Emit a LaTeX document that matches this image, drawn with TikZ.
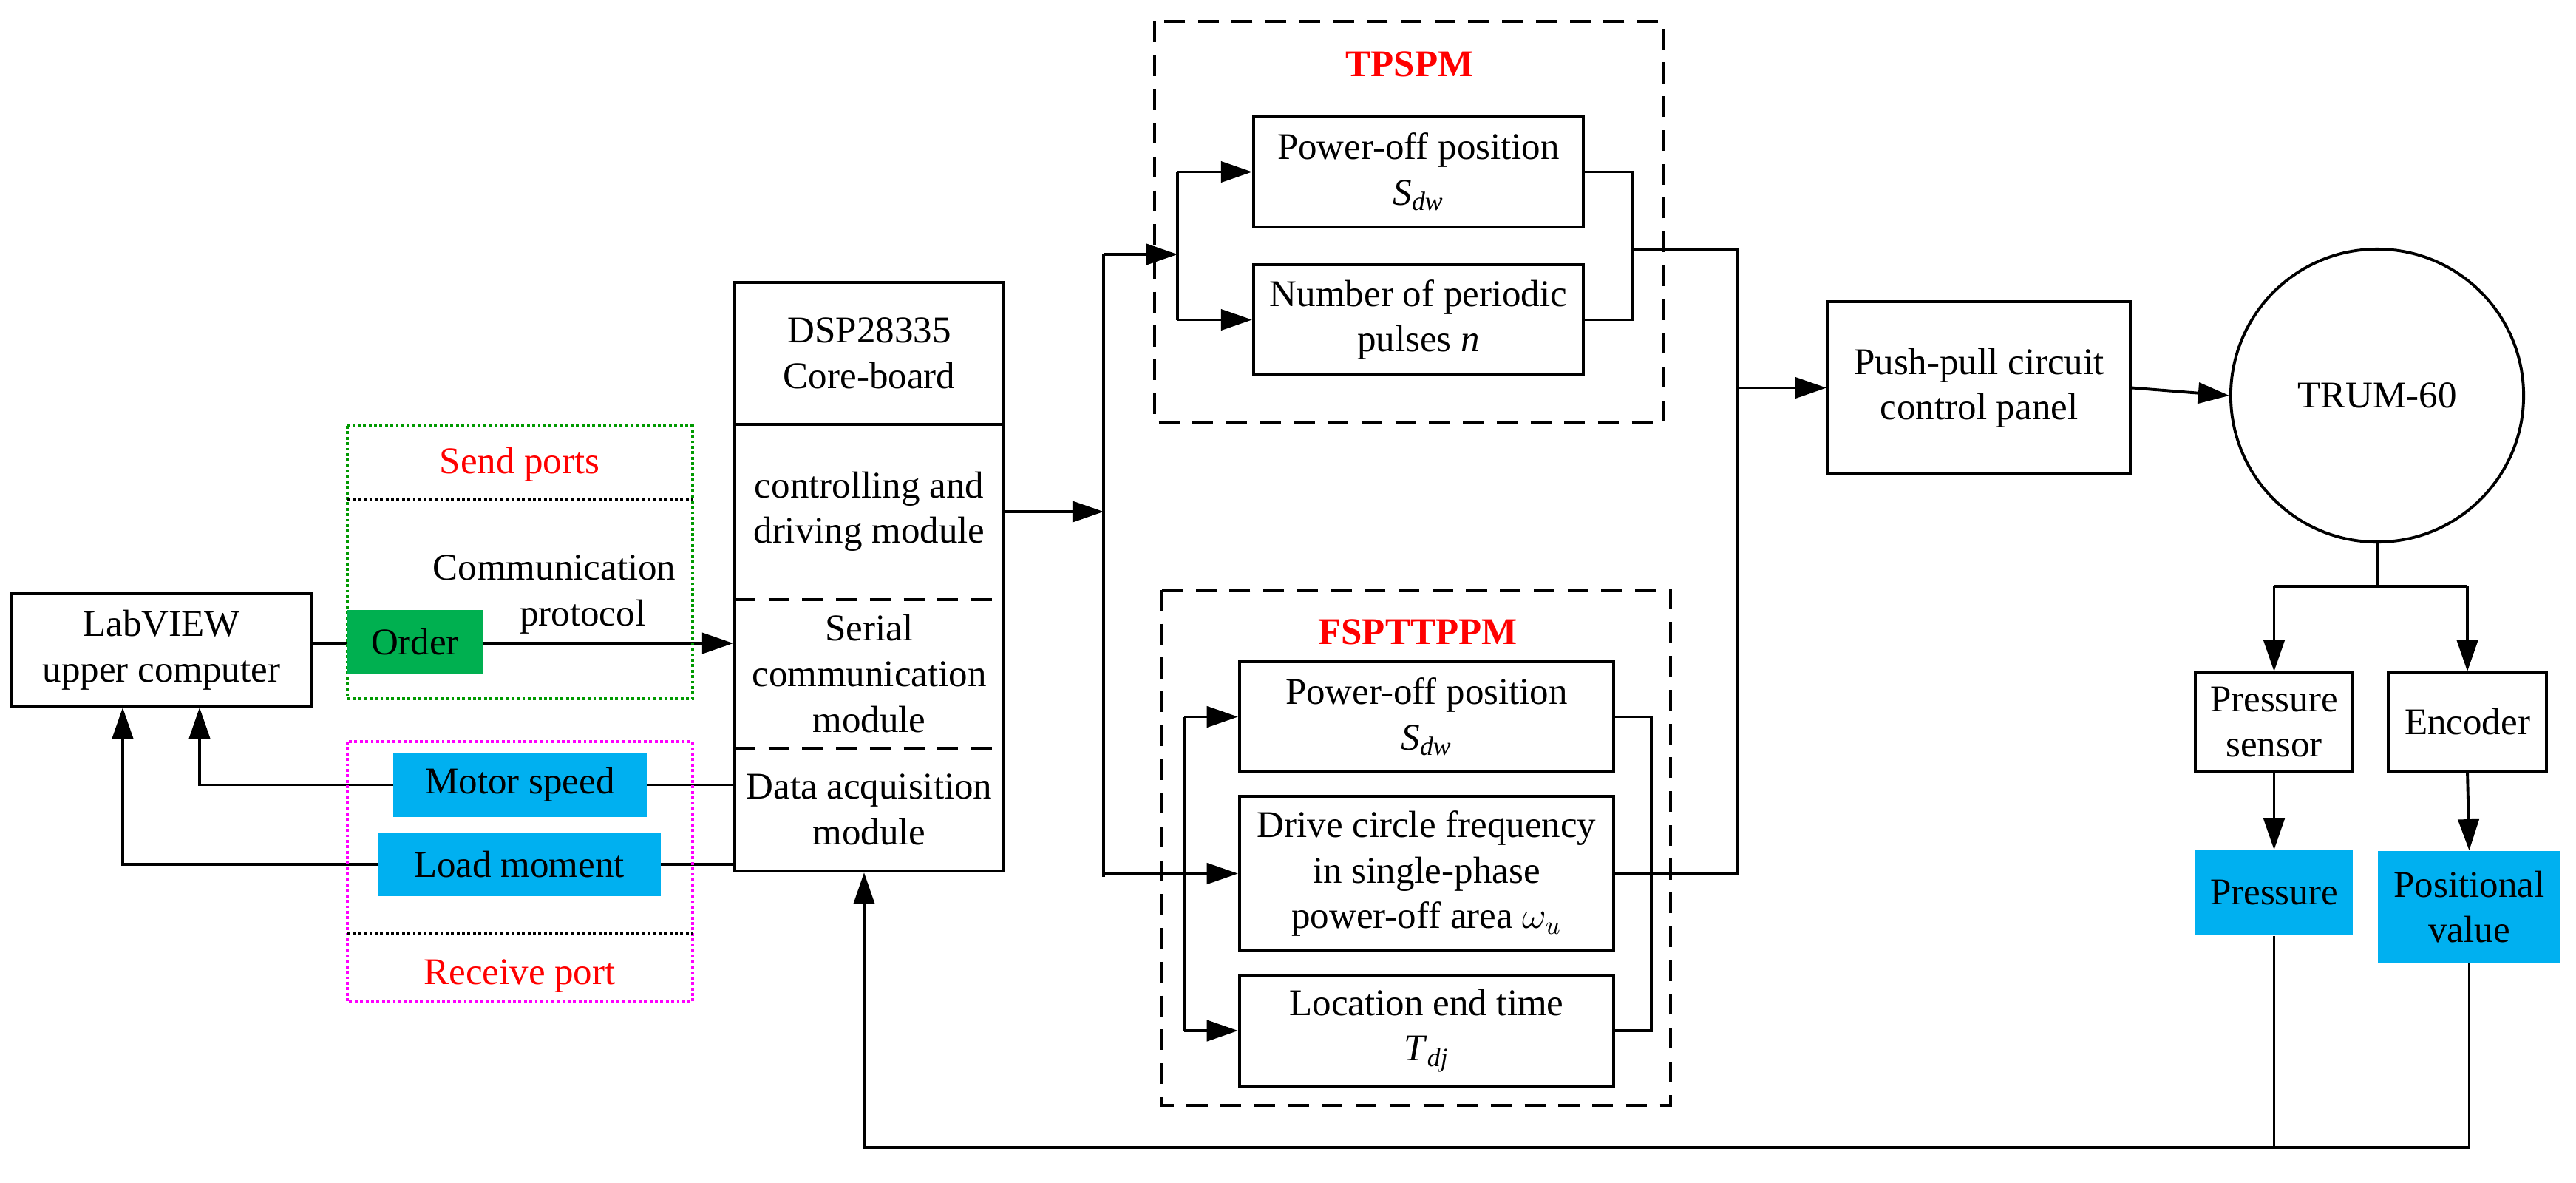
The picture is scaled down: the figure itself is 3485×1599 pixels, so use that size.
\documentclass[tikz,border=0pt]{standalone}
\usepackage{fontspec}
\setmainfont{Liberation Serif}
\usetikzlibrary{arrows.meta,backgrounds}
\definecolor{gr}{HTML}{00B050}
\definecolor{bl}{HTML}{00B0F0}
\definecolor{mg}{HTML}{FF00FF}
\newcommand{\mi}[2]{\textit{#1}\textsubscript{\textit{#2}}}
\begin{document}
\begin{tikzpicture}[x=0.01cm,y=-0.01cm,
  every node/.style={font=\fontsize{14.5}{17.5}\selectfont},
  box/.style={draw,line width=1.1pt,align=center,inner sep=0pt},
  fbox/.style={align=center,inner sep=0pt},
  ln/.style={line width=1.1pt},
  arr/.style={ln,-{Triangle[length=12pt,width=8pt]}},
  dbox/.style={line width=1.1pt,dash pattern=on 8pt off 5pt},
  title/.style={text=red,font=\fontsize{14.5}{17.5}\selectfont\bfseries}]
\useasboundingbox (0,0) rectangle (3485,1599);
% left
\node[box,minimum width=4.05cm,minimum height=1.52cm] (lab) at (218.5,879) {LabVIEW\\upper computer};
\draw[green!60!black,densely dotted,line width=1.1pt] (470,576) rectangle (937,945);
\draw[densely dotted,line width=1.1pt] (470,676) -- (937,676);
\node[text=red] (sp) at (703,628) {Send ports};
\node[align=center] (cp) at (750,804) {Communication\\\hspace*{1.5em}protocol};
\draw[mg,densely dotted,line width=1.1pt] (470,1003) rectangle (937,1355);
\draw[densely dotted,line width=1.1pt] (470,1262) -- (937,1262);
\node[text=red] (rp) at (703,1320) {Receive port};
% DSP
\node[box,minimum width=3.64cm,minimum height=7.96cm] (dsp) at (1176,780) {};
\draw[ln] (994,574) -- (1358,574);
\draw[ln,dash pattern=on 8pt off 5pt] (994,811) -- (1358,811);
\draw[ln,dash pattern=on 8pt off 5pt] (994,1012) -- (1358,1012);
\node[fbox] (core) at (1176,478) {DSP28335\\Core-board};
\node[fbox] (ctrl) at (1176,692) {controlling and\\driving module};
\node[fbox] (ser) at (1176,911) {Serial\\communication\\module};
\node[fbox] (dat) at (1176,1095) {Data acquisition\\module};
% TPSPM
\draw[dbox] (1562,29) rectangle (2251,572);
\node[title] (t1) at (1907,87) {TPSPM};
\node[box,minimum width=4.46cm,minimum height=1.49cm] (p1) at (1919,232.5) {Power-off position\\\mi{S}{dw}};
\node[box,minimum width=4.46cm,minimum height=1.49cm] (p2) at (1919,432.5) {Number of periodic\\pulses \textit{n}};
% FSPTTPPM
\draw[dbox] (1571,798) rectangle (2260,1495);
\node[title] (t2) at (1918,855) {FSPTTPPM};
\node[box,minimum width=5.06cm,minimum height=1.49cm] (f1) at (1930,969.5) {Power-off position\\\mi{S}{dw}};
\node[box,minimum width=5.06cm,minimum height=2.09cm] (f2) at (1930,1181.5) {Drive circle frequency\\in single-phase\\power-off area $\omega_u$};
\node[box,minimum width=5.06cm,minimum height=1.50cm] (f3) at (1930,1394) {Location end time\\\mi{T}{dj}};
% right
\node[box,minimum width=4.09cm,minimum height=2.33cm] (push) at (2677.5,524.5) {Push-pull circuit\\control panel};
\node[draw,circle,line width=1.1pt,minimum size=3.96cm] (trum) at (3216,535) {TRUM-60};
\node[box,minimum width=2.13cm,minimum height=1.33cm] (ps) at (3076.5,976.5) {Pressure\\sensor};
\node[box,minimum width=2.14cm,minimum height=1.33cm] (enc) at (3338,976.5) {Encoder};
% connectors
\begin{scope}[on background layer]
\draw[arr] (lab.east|-0,870) -- (dsp.west|-0,870);
\draw[arr] (dsp.west|-0,1061.5) -- (270,1061.5) -- (270,0|-lab.south);
\draw[arr] (dsp.west|-0,1169) -- (166,1169) -- (166,0|-lab.south);
\end{scope}
\node[fill=gr,minimum width=1.83cm,minimum height=0.86cm,inner sep=0pt] (ord) at (561.5,868) {Order};
\node[fill=bl,minimum width=3.43cm,minimum height=0.87cm,inner sep=0pt] (mot) at (703.5,1061.5) {Motor speed};
\node[fill=bl,minimum width=3.83cm,minimum height=0.86cm,inner sep=0pt] (load) at (702.5,1169) {Load moment};
\node[fill=bl,minimum width=2.13cm,minimum height=1.15cm,inner sep=0pt] (pr) at (3076.5,1207.5) {Pressure};
\node[fill=bl,minimum width=2.47cm,minimum height=1.51cm,inner sep=0pt,align=center] (pos) at (3340.5,1226.5) {Positional\\value};
\coordinate (s) at (1493,692);
\draw[arr] (dsp.east|-s) -- (s);
\draw[ln] (1493,344) -- (1493,1186);
\draw[arr] (1493,344) -- (1593,344);
\draw[ln] (1593,232.5) -- (1593,432.5);
\draw[arr] (1593,232.5) -- (p1.west);
\draw[arr] (1593,432.5) -- (p2.west);
\draw[arr] (1493,1181.5) -- (f2.west);
\draw[ln] (1602,969.5) -- (1602,1394);
\draw[arr] (1602,969.5) -- (f1.west);
\draw[arr] (1602,1394) -- (f3.west);
\draw[ln] (p1.east) -- (2209,232.5) -- (2209,432.5) -- (p2.east);
\draw[ln] (2209,337) -- (2351,337) -- (2351,1181.5) -- (f2.east);
\draw[ln] (f1.east) -- (2234,969.5) -- (2234,1394) -- (f3.east);
\draw[arr] (2351,524.5) -- (push.west);
\draw[arr] (push.east) -- (trum.west);
\draw[ln] (trum.south) -- (3216,793);
\draw[ln] (3076.5,793) -- (3338,793);
\draw[arr] (3076.5,793) -- (ps.north);
\draw[arr] (3338,793) -- (enc.north);
\draw[arr] (ps.south) -- (pr.north);
\draw[arr] (enc.south|-0,1043) -- (pos.north);
\draw[ln] (pr.south) -- (3076.5,1552);
\draw[arr] (pos.south) -- (3340.5,1552) -- (1169,1552) -- (1169,0|-dsp.south);
\end{tikzpicture}
\end{document}
